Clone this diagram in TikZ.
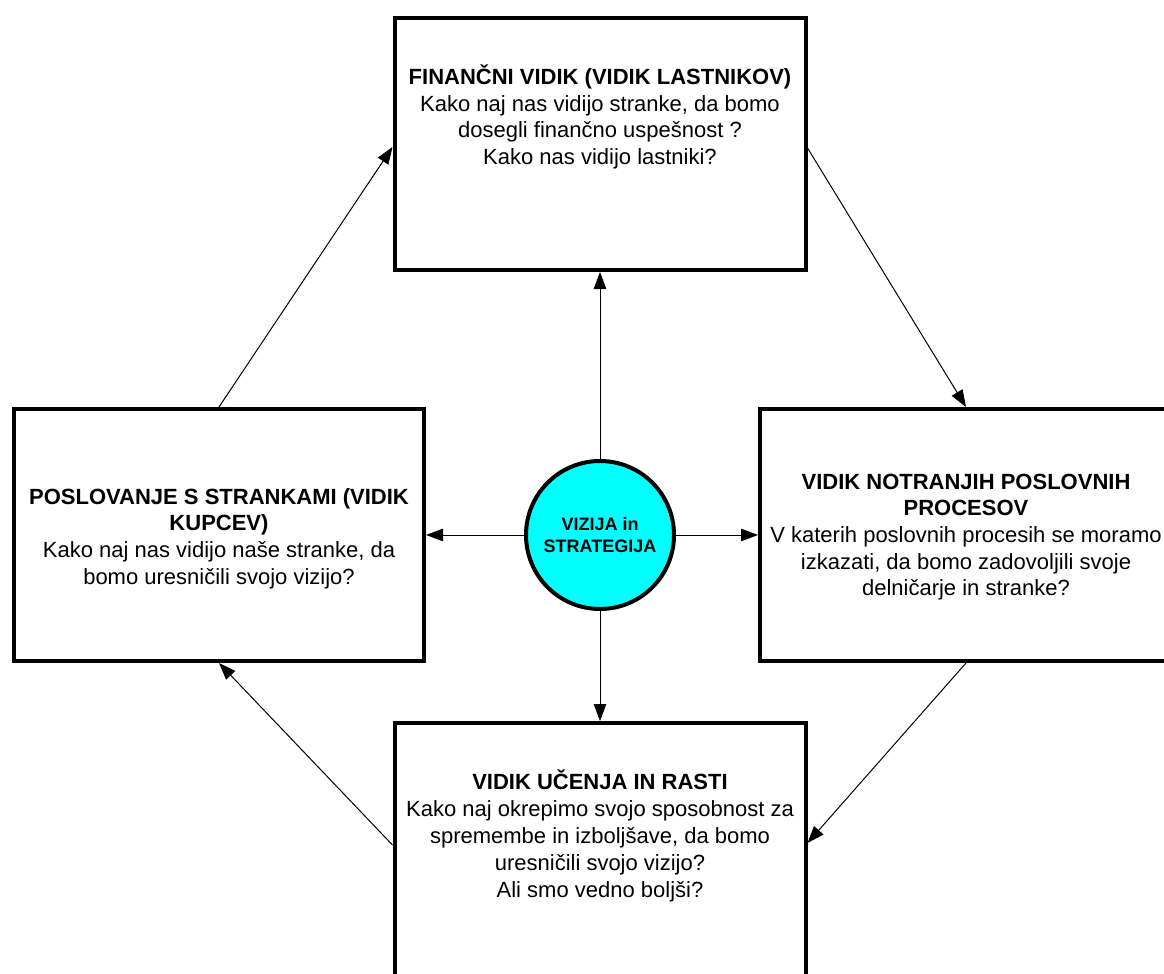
\documentclass[tikz,border=0pt]{standalone}
\usepackage{fontspec}
\setmainfont{Liberation Sans}
\usetikzlibrary{arrows.meta}
\definecolor{hubcyan}{RGB}{0,255,255}

\begin{document}
\begin{tikzpicture}[x=1pt,y=-1pt,
  panel/.style={draw=black, line width=4pt, fill=white, rectangle, inner sep=0pt},
  panelbody/.style={align=center, inner sep=0pt, font=\fontsize{22}{26.7}\selectfont},
  hub/.style={draw=black, line width=4pt, fill=hubcyan, circle, minimum size=148pt, inner sep=0pt,
    align=center, font=\bfseries\fontsize{18}{22}\selectfont},
  conn/.style={line width=1pt, -{Triangle[length=17pt,width=12.5pt]}}
]
\useasboundingbox (0,0) rectangle (1164,974);
\clip (0,0) rectangle (1164,974);

% four perspective panels
\node[panel, minimum width=411pt, minimum height=252pt] (fin) at (600,144) {};
\node[panel, minimum width=410pt, minimum height=252pt] (cus) at (219,535) {};
\node[panel, minimum width=412pt, minimum height=252pt] (pro) at (966,535) {};
\node[panel, minimum width=411pt, minimum height=262pt] (lea) at (600,854) {};

% panel texts
\node[panelbody] (fintxt) at (600,117) {\textbf{FINANČNI VIDIK (VIDIK LASTNIKOV)}\\Kako naj nas vidijo stranke, da bomo\\dosegli finančno uspešnost ?\\Kako nas vidijo lastniki?};
\node[panelbody] (custxt) at (219,538.5) {\textbf{POSLOVANJE S STRANKAMI (VIDIK}\\\textbf{KUPCEV)}\\Kako naj nas vidijo naše stranke, da\\bomo uresničili svojo vizijo?};
\node[panelbody] (protxt) at (966,537) {\textbf{VIDIK NOTRANJIH POSLOVNIH}\\\textbf{PROCESOV}\\V katerih poslovnih procesih se moramo\\izkazati, da bomo zadovoljili svoje\\delničarje in stranke?};
\node[panelbody, font=\fontsize{22}{27.2}\selectfont] (leatxt) at (600,836) {\textbf{VIDIK UČENJA IN RASTI}\\Kako naj okrepimo svojo sposobnost za\\spremembe in izboljšave, da bomo\\uresničili svojo vizijo?\\Ali smo vedno boljši?};

% central vision node
\node[hub] (vis) at (600,535) {VIZIJA in\\STRATEGIJA};

% from the centre out to each panel
\draw[conn] (vis) -- (fin);
\draw[conn] (vis) -- (cus);
\draw[conn] (vis) -- (pro);
\draw[conn] (vis) -- (lea);

% the cycle around the panels
\draw[conn] (cus.north) -- ([yshift=-3pt]fin.west);
\draw[conn] ([yshift=-4pt]fin.east) -- (pro.north);
\draw[conn] (pro.south) -- ([yshift=11pt]lea.east);
\draw[conn] ([yshift=9pt]lea.west) -- (cus.south);
\end{tikzpicture}
\end{document}
